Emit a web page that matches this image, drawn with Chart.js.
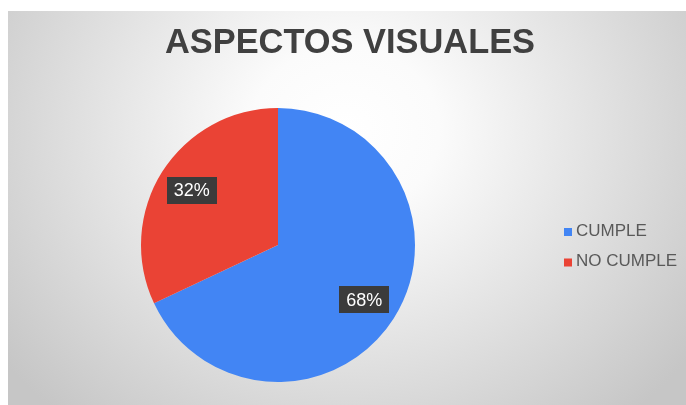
<!DOCTYPE html>
<html>
<head>
<meta charset="utf-8">
<script src="https://cdn.jsdelivr.net/npm/chart.js@4"></script>
<style>
  html, body { margin: 0; padding: 0; background: #ffffff; }
  #wrap { width: 686px; height: 405px; position: relative; }
</style>
</head>
<body>
<div id="wrap"><canvas id="c" width="686" height="405"></canvas></div>
<script>
// Survey result: visual aspects
const categories = ['CUMPLE', 'NO CUMPLE'];
const percentages = [68, 32];
const sliceColors = ['#4285F4', '#EA4335'];
const chartTitle = 'ASPECTOS VISUALES';

const FONT = 'Arial, "Liberation Sans", sans-serif';

// Grey radial backdrop panel behind the chart
const panelBackground = {
  id: 'panelBackground',
  beforeDraw(chart) {
    const ctx = chart.ctx;
    const w = chart.width, h = chart.height;
    ctx.save();
    ctx.fillStyle = '#ffffff';
    ctx.fillRect(0, 0, w, h);
    const sx = 430 / 380;
    ctx.translate(345, 130);
    ctx.scale(sx, 1);
    const g = ctx.createRadialGradient(0, 0, 0, 0, 0, 380);
    g.addColorStop(0, '#ffffff');
    g.addColorStop(0.22, '#fbfbfb');
    g.addColorStop(1, '#c6c6c6');
    ctx.fillStyle = g;
    ctx.fillRect((8 - 345) / sx, 11 - 130, (w - 8) / sx, h - 11);
    ctx.restore();
  }
};

// Chart heading, centred across the whole panel
const panelTitle = {
  id: 'panelTitle',
  afterDraw(chart) {
    const ctx = chart.ctx;
    ctx.save();
    ctx.font = 'bold 34.4px ' + FONT;
    ctx.fillStyle = '#404040';
    ctx.textAlign = 'center';
    ctx.textBaseline = 'alphabetic';
    ctx.fillText(chartTitle, 350, 53);
    ctx.restore();
  }
};

// Percentage labels in dark boxes on each slice
const sliceLabels = {
  id: 'sliceLabels',
  afterDatasetsDraw(chart) {
    const ctx = chart.ctx;
    const meta = chart.getDatasetMeta(0);
    const values = chart.data.datasets[0].data;
    ctx.save();
    ctx.font = '18px ' + FONT;
    ctx.textAlign = 'center';
    ctx.textBaseline = 'middle';
    meta.data.forEach((arc, i) => {
      const p = arc.getProps(['x', 'y', 'startAngle', 'endAngle', 'outerRadius'], true);
      const mid = (p.startAngle + p.endAngle) / 2;
      const r = p.outerRadius * 0.745;
      const cx = p.x + Math.cos(mid) * r;
      const cy = p.y + Math.sin(mid) * r;
      const text = values[i] + '%';
      const tw = ctx.measureText(text).width;
      const bw = tw + 14, bh = 27;
      ctx.fillStyle = '#3b3b3b';
      ctx.fillRect(Math.round(cx - bw / 2), Math.round(cy - bh / 2), Math.round(bw), bh);
      ctx.fillStyle = '#ffffff';
      ctx.fillText(text, cx, cy + 1);
    });
    ctx.restore();
  }
};

// Legend on the right side with small square markers
const sideLegend = {
  id: 'sideLegend',
  afterDraw(chart) {
    const ctx = chart.ctx;
    const labels = chart.data.labels;
    const colors = chart.data.datasets[0].backgroundColor;
    ctx.save();
    ctx.font = '17px ' + FONT;
    ctx.textAlign = 'left';
    ctx.textBaseline = 'middle';
    labels.forEach((lab, i) => {
      const y = 231 + i * 30.5;
      ctx.fillStyle = colors[i];
      ctx.fillRect(564, y - 3, 8, 8);
      ctx.fillStyle = '#595959';
      ctx.fillText(lab, 576, y);
    });
    ctx.restore();
  }
};

new Chart(document.getElementById('c'), {
  type: 'pie',
  data: {
    labels: categories,
    datasets: [{
      data: percentages,
      backgroundColor: sliceColors,
      borderWidth: 0,
      hoverOffset: 0,
      offset: 0
    }]
  },
  options: {
    responsive: false,
    animation: false,
    devicePixelRatio: 1,
    layout: { padding: { left: 141, right: 271, top: 108, bottom: 23 } },
    plugins: {
      legend: { display: false },
      tooltip: { enabled: false },
      title: { display: false }
    }
  },
  plugins: [panelBackground, panelTitle, sliceLabels, sideLegend]
});
</script>
</body>
</html>
